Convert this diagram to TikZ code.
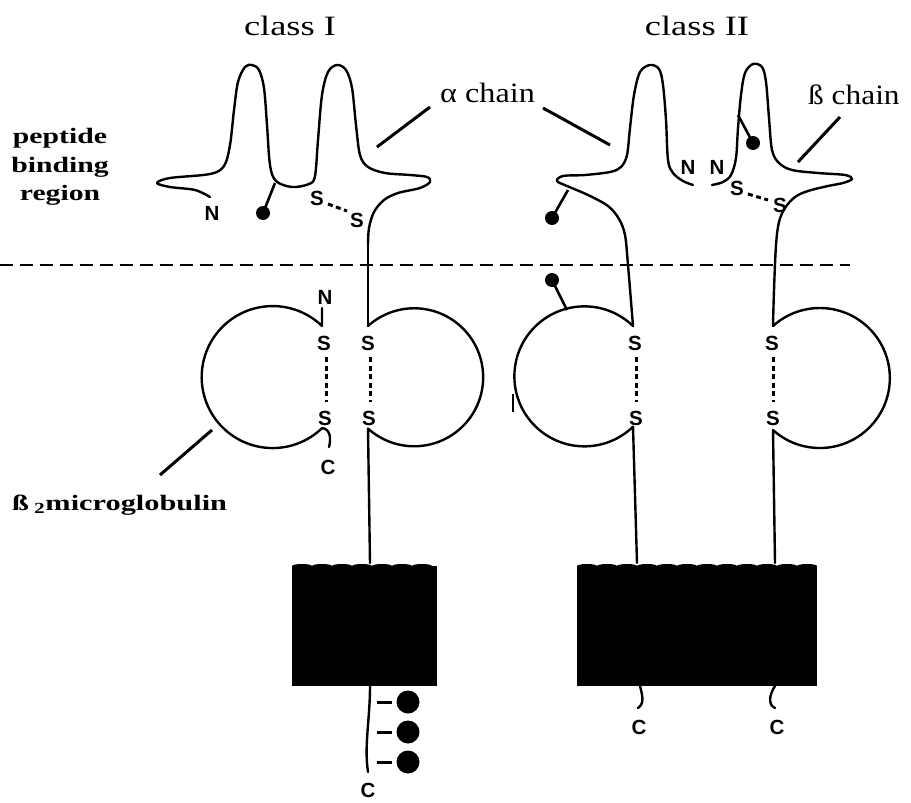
\documentclass[tikz,border=0pt]{standalone}
\usepackage{fontspec}
\setmainfont{Liberation Serif}
\newfontfamily\labelfont{Liberation Sans}
\def\wide#1#2{\scalebox{#1}[1]{#2}}
\def\sugar(#1)(#2){\draw[line width=2.6pt] (#1) -- (#2); \fill (#2) circle (7);}
\tikzset{
	strand/.style={line width=2.4pt, line join=round, line cap=round},
	pointer/.style={line width=3pt},
	bridge/.style={line width=3pt, dash pattern=on 5pt off 3.5pt},
	atom/.style={font=\labelfont\bfseries\fontsize{20.5}{20.5}\selectfont, inner sep=0pt},
	heading/.style={font=\fontsize{28}{30}\selectfont, inner sep=0pt},
	legend/.style={font=\bfseries\fontsize{22}{28.5}\selectfont, inner sep=0pt, align=center},
}

\begin{document}
\begin{tikzpicture}[x=1pt, y=-1pt]
		%%%%% START %%%%%
		\useasboundingbox (0,0) rectangle (911,803);
		
		\node[heading, anchor=base] (classI) at (290,35) {\wide{1.3}{class I}};
		\node[heading, anchor=base] (classII) at (697,35) {\wide{1.3}{class II}};
		\node[heading, anchor=base west] (alphalabel) at (440,102) {\wide{1.15}{α chain}};
		\node[heading, anchor=base west] (betalabel) at (808,104) {\wide{1.12}{ß chain}};
		\node[legend] (groove) at (60,167) {\wide{1.35}{peptide}\\\wide{1.35}{binding}\\\wide{1.35}{region}};
		\node[legend, anchor=base west] (b2m) at (12,510) {\wide{1.38}{ß\,\textsubscript{2}microglobulin}};
		
		\draw[pointer] (377,147) -- (430,107);
		\draw[pointer] (543,108) -- (610,145);
		\draw[pointer] (798,162) -- (840,117);
		\draw[pointer] (160,475) -- (212,430);
		
		% membrane
		\draw[line width=1.8pt, dash pattern=on 13pt off 7pt] (0,265) -- (850,265);
		
		% class I, alpha 1 and alpha 2
		\draw[strand] plot[smooth, tension=0.55] coordinates {(210,197) (195,190) (170,187) (157,183) (170,178) (210,174) (224,166) (230,145) (234,110) (238,82) (245,67) (252,65) (259,70) (264,88) (267,125) (270,165) (276,181) (292,187) (309,184) (315,176) (318,140) (322,95) (328,72) (337,65) (346,70) (352,88) (356,125) (360,155) (368,167) (385,173) (410,175) (427,177) (430,182) (420,188) (398,193) (384,200) (374,212) (369,228) (368,245)};
		\draw[strand] (368,245) -- (368,326);
		\sugar(275,183)(263,213)
		\node[atom] (nI) at (212,213) {N};
		\node[atom] (sIa) at (317,198) {S};
		\node[atom] (sIb) at (357,220) {S};
		\draw[bridge] (328,204) -- (347,211);
		
		% class I, beta 2 microglobulin and alpha 3
		\draw[strand] (322,308) -- (322,326) arc (-46:-314:71);
		\draw[strand] (322,428) .. controls (331,429) and (331,440) .. (329,447);
		\draw[strand] (368,326) arc (-132:132:69) -- (370,563);
		\node[atom] (nIb) at (325,297) {N};
		\node[atom] (cIb) at (328,467) {C};
		\foreach \x/\n in {324/l, 368/r} {
			\node[atom] (sIu\n) at (\x,343) {S};
			\node[atom] (sId\n) at (\x+1,418) {S};
			\draw[bridge] (\x+2,357) -- (\x+2,402);
		}
		
		% class II, alpha 1 and beta 1
		\draw[strand] plot[smooth, tension=0.55] coordinates {(633,326) (628,265) (625,235) (619,219) (608,206) (588,195) (567,186) (557,181) (563,176) (585,175) (610,172) (621,167) (627,155) (630,128) (634,95) (640,72) (650,65) (659,69) (663,85) (666,120) (668,160) (673,173) (683,181) (693,185)};
		\draw[strand] plot[smooth, tension=0.55] coordinates {(712,185) (723,182) (731,175) (736,158) (738,128) (741,95) (745,73) (753,64) (762,67) (766,82) (769,118) (772,150) (779,163) (792,170) (818,173) (845,175) (852,179) (843,183) (828,186) (808,191) (795,197) (785,208) (779,222) (776,245) (774,290) (773,326)};
		\sugar(568,190)(552,218)
		\sugar(738,115)(753,143)
		\node[atom] (nIIa) at (688,167) {N};
		\node[atom] (nIIb) at (717,167) {N};
		\node[atom] (sIIa) at (737,188) {S};
		\node[atom] (sIIb) at (780,205) {S};
		\draw[bridge] (748,194) -- (768,200);
		
		% class II, alpha 2 and beta 2
		\draw[strand] (633,326) arc (-46:-314:70) -- (637,563);
		\draw[strand] (773,326) arc (-132:132:70) -- (775,563);
		\sugar(567,310)(552,280)
		\draw[line width=1.2pt] (513,394) -- (513,412);
		\foreach \x/\n in {635/l, 772/r} {
			\node[atom] (sIIu\n) at (\x,343) {S};
			\node[atom] (sIId\n) at (\x+1,418) {S};
			\draw[bridge] (\x+1,357) -- (\x+1,402);
		}
		
		% transmembrane blocks
		\fill (292,566) rectangle (437,686);
		\foreach \x in {302,322,...,427} \fill (\x,566) ellipse (10 and 2);
		\fill (577,566) rectangle (817,686);
		\foreach \x in {587,607,...,807} \fill (\x,566) ellipse (10 and 2);
		
		% cytoplasmic tails
		\draw[strand] (370,686) .. controls (370,720) and (364,745) .. (368,772);
		\foreach \y in {702,732,762} {
			\draw[line width=3pt] (377,\y) -- (392,\y);
			\fill (408,\y) circle (11.5);
		}
		\node[atom] (cIc) at (368,790) {C};
		\draw[strand] (640,686) .. controls (643,697) and (644,704) .. (638,708);
		\draw[strand] (775,686) .. controls (769,695) and (768,705) .. (775,708);
		\node[atom] (cIIa) at (639,727) {C};
		\node[atom] (cIIb) at (777,727) {C};
		
		%%%%% END %%%%%
	\end{tikzpicture}
\end{document}
